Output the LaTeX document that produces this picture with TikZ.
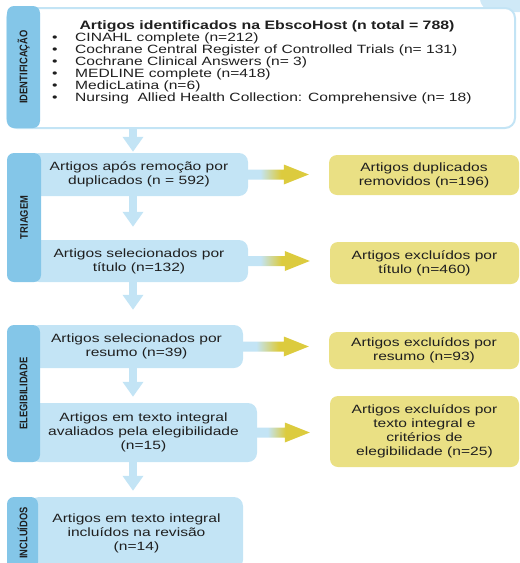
\documentclass[tikz,border=0pt]{standalone}
\usepackage{fontspec}
\setmainfont{Liberation Sans}[FakeStretch=1.3]
\newfontfamily\tabfamily{Liberation Sans}[FakeStretch=0.85]
\usetikzlibrary{positioning, arrows.meta, calc}
\definecolor{prismablue}{HTML}{C3E4F5}
\definecolor{prismatab}{HTML}{84C6E8}
\definecolor{prismayellow}{HTML}{EAE084}
\definecolor{prismagold}{HTML}{DCCB3E}
\definecolor{prismatext}{HTML}{1F1F1F}
\pgfdeclarehorizontalshading{flowfade}{100bp}{color(0bp)=(prismablue); color(35bp)=(prismablue);
  color(52bp)=(prismagold); color(100bp)=(prismagold)}
\newcommand{\flowfont}{\fontsize{12}{14}\selectfont}
\newcommand{\tabfont}{\tabfamily\bfseries\fontsize{11}{11}\selectfont}
% shaded side arrow from a stage box to its exclusion box
\newcommand{\sideflow}[2]{%
  \shade[shading=flowfade] let \p1=(#1.east), \p2=(#2.west) in
    (\x1,\y1+5pt) -- (\x2-45pt,\y1+5pt) -- (\x2-45pt,\y1+10pt) -- (\x2-20pt,\y1)
    -- (\x2-45pt,\y1-10pt) -- (\x2-45pt,\y1-5pt) -- (\x1,\y1-5pt) -- cycle;}

\begin{document}
\begin{tikzpicture}[x=1pt, y=-1pt,
    stagebox/.style={fill=prismablue, rounded corners=9pt, align=center, font=\flowfont,
        text=prismatext, inner sep=0pt},
    exclbox/.style={fill=prismayellow, rounded corners=8pt, align=center, font=\flowfont,
        text=prismatext, inner sep=0pt},
    tab/.style={fill=prismatab, rounded corners=7pt, rotate=90, inner sep=0pt,
        font=\tabfont, text=prismatext},
    downflow/.style={draw=prismablue, line width=8pt, -{Triangle[length=15pt, width=20pt]}},
]
\useasboundingbox (0,0) rectangle (520,563);
\clip (0,0) rectangle (520,563);

% ===== leftover shape at the top right =====
\fill[prismablue!80, rounded corners=14pt] (480,-30) rectangle (545,12);

% ===== IDENTIFICACAO =====
\node[draw=prismablue, line width=2pt, fill=white, rounded corners=10pt,
  minimum width=508, minimum height=120] (idbox) at (261,68) {};
\node[tab, minimum width=122, minimum height=33] (tabid) at (23.5,67) {IDENTIFICAÇÃO};
\node[font=\bfseries\fontsize{12.2}{12}\selectfont, text=prismatext, inner sep=0pt,
  anchor=base] (idtitle) at (267,29.5) {Artigos identificados na EbscoHost (n total = 788)};
\node[font=\fontsize{12}{12}\selectfont, text=prismatext, inner sep=0pt, align=left,
  anchor=north west] (idlist) at (52,33)
  {\makebox[23pt][l]{\textbullet}CINAHL complete (n=212)\\
   \makebox[23pt][l]{\textbullet}Cochrane Central Register of Controlled Trials (n= 131)\\
   \makebox[23pt][l]{\textbullet}Cochrane Clinical Answers (n= 3)\\
   \makebox[23pt][l]{\textbullet}MEDLINE complete (n=418)\\
   \makebox[23pt][l]{\textbullet}MedicLatina (n=6)\\
   \makebox[23pt][l]{\textbullet}Nursing\ \ Allied Health Collection: Comprehensive (n= 18)};

% ===== TRIAGEM =====
\node[stagebox, minimum width=218, minimum height=43] (dup) at (139,174.5)
  {Artigos após remoção por\\duplicados (n = 592)};
\node[stagebox, minimum width=218, minimum height=42] (tit) at (139,261)
  {Artigos selecionados por\\título (n=132)};
\node[tab, minimum width=129, minimum height=34] (tabtri) at (24,217.5) {TRIAGEM};

\node[exclbox, minimum width=190, minimum height=40] (xdup) at (424,175)
  {Artigos duplicados\\removidos (n=196)};
\node[exclbox, minimum width=189, minimum height=42] (xtit) at (424.5,263)
  {Artigos excluídos por\\título (n=460)};

% ===== ELEGIBILIDADE =====
\node[stagebox, minimum width=213, minimum height=43] (res) at (136.5,346.5)
  {Artigos selecionados por\\resumo (n=39)};
\node[stagebox, minimum width=227, minimum height=59] (full) at (143.5,432.5)
  {Artigos em texto integral\\avaliados pela elegibilidade\\(n=15)};
\node[tab, minimum width=137, minimum height=33] (tabeleg) at (23.5,393.5) {ELEGIBILIDADE};

\node[exclbox, minimum width=190, minimum height=37] (xres) at (424,350.5)
  {Artigos excluídos por\\resumo (n=93)};
\node[exclbox, minimum width=189, minimum height=71] (xfull) at (424.5,431.5)
  {Artigos excluídos por\\texto integral e\\critérios de\\elegibilidade (n=25)};

% ===== INCLUIDOS =====
\node[stagebox, minimum width=213, minimum height=72] (incl) at (136.5,533)
  {Artigos em texto integral\\incluídos na revisão\\(n=14)};
\node[tab, minimum width=72, minimum height=31] (tabincl) at (22.5,533) {INCLUÍDOS};

% ===== Flow arrows =====
\coordinate (spine) at (133,0);
\draw[downflow, shorten >=1pt] (idbox.south -| spine) -- (dup.north -| spine);
\draw[downflow, shorten >=13pt] (dup.south -| spine) -- (tit.north -| spine);
\draw[downflow, shorten >=15pt] (tit.south -| spine) -- (res.north -| spine);
\draw[downflow, shorten >=6pt] (res.south -| spine) -- (full.north -| spine);
\draw[downflow, shorten >=6pt] (full.south -| spine) -- (incl.north -| spine);

\sideflow{dup}{xdup}
\sideflow{tit}{xtit}
\sideflow{res}{xres}
\sideflow{full}{xfull}

\end{tikzpicture}
\end{document}
